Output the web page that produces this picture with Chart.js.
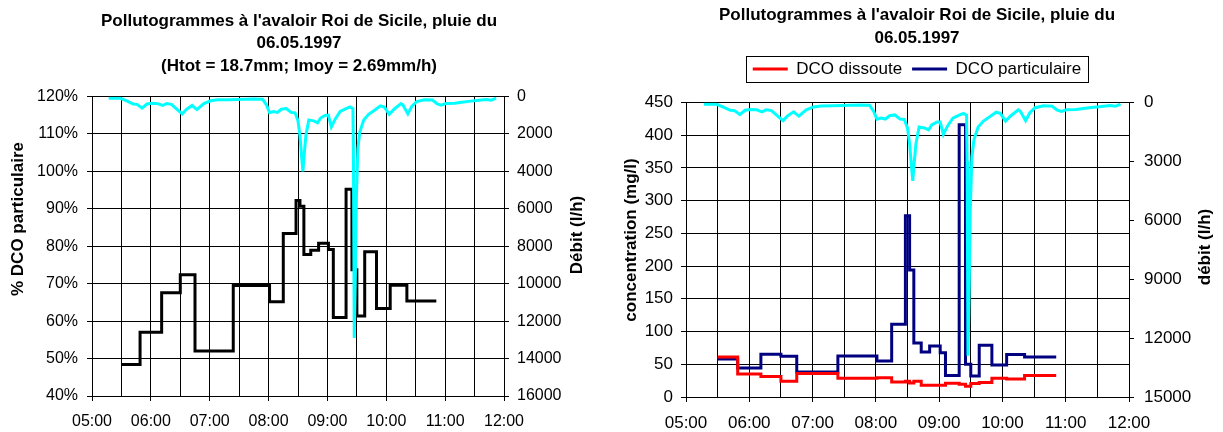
<!DOCTYPE html>
<html>
<head>
<meta charset="utf-8">
<script src="https://cdn.jsdelivr.net/npm/chart.js@4.4.1/dist/chart.umd.min.js"></script>
<style>
  body { margin: 0; background: #fff; }
  #left { position: absolute; left: 0; top: 0; }
  #right { position: absolute; left: 611px; top: 0; }
</style>
</head>
<body>
<canvas id="left" width="598" height="432"></canvas>
<canvas id="right" width="612" height="432"></canvas>
<script>
// Sampling steps (start of each sample, last entry = end of the last sample)
var stepTimes = ['05:30', '05:49', '06:11', '06:30', '06:45', '07:24', '08:01', '08:15', '08:28', '08:32', '08:36', '08:43',
    '08:51', '09:01', '09:06', '09:19', '09:25', '09:30', '09:38', '09:50', '10:04', '10:21', '10:51'];
var pctParticulaire = [48.4, 57.0, 67.6, 72.4, 52.0, 69.5, 65.2, 83.4, 92.2, 90.7, 77.8, 78.9,
    80.8, 79.1, 61.0, 95.2, 73.7, 61.4, 78.5, 63.4, 69.6, 65.4, 65.4];
var dcoDissoute = [61.2, 35, 31.5, 24, 36, 28.5, 29.5, 23, 24, 21.5, 24, 18,
    18, 18, 21, 19.5, 16.5, 20.5, 22, 28.5, 27.5, 33, 33];
var dcoParticulaire = [58.2, 44.4, 65.3, 62.3, 38.3, 62.8, 55.1, 111.3, 277, 193.9, 82.5, 68.9,
    77.8, 67.5, 33, 416, 50, 32, 79, 49, 64.8, 61.2, 61.2];

// Flow (débit, l/h)
var flowTimes = ['05:17', '05:29', '05:36', '05:42', '05:46', '05:51', '05:56', '06:01', '06:07', '06:12', '06:16', '06:21',
    '06:27', '06:32', '06:36', '06:42', '06:47', '06:54', '07:01', '07:08', '07:20', '07:35', '07:45', '07:54',
    '07:58', '08:01', '08:05', '08:09', '08:13', '08:18', '08:23', '08:27', '08:30', '08:32', '08:34', '08:35',
    '08:36', '08:38', '08:41', '08:46', '08:50', '08:53', '08:58', '09:01', '09:04', '09:08', '09:13', '09:19',
    '09:23', '09:26', '09:26:30', '09:27:20', '09:28:30', '09:29:30', '09:31', '09:33', '09:37', '09:42', '09:48', '09:54',
    '09:58', '10:03', '10:08', '10:15', '10:17', '10:22', '10:26', '10:31', '10:39', '10:47', '10:52', '10:56',
    '11:01', '11:10', '11:15', '11:24', '11:32', '11:42', '11:47', '11:52'];
var flowValues = [100, 100, 250, 400, 420, 620, 400, 360, 380, 480, 380, 420,
    700, 930, 700, 480, 700, 380, 230, 180, 170, 150, 130, 150,
    460, 860, 800, 850, 680, 640, 850, 870, 1300, 2100, 3400, 4000,
    3300, 2100, 1250, 1300, 1400, 1150, 1000, 1000, 1630, 1200, 800, 650,
    560, 650, 3000, 12900, 9500, 5500, 2800, 1900, 1250, 950, 730, 500,
    560, 950, 680, 380, 450, 930, 530, 270, 170, 190, 400, 460,
    370, 360, 320, 260, 220, 160, 200, 90];

var hourLabels = ['05:00', '06:00', '07:00', '08:00', '09:00', '10:00', '11:00', '12:00'];

Chart.defaults.font.family = '"Liberation Sans", Arial, sans-serif';
Chart.defaults.color = '#000';

function toHours(t) {
    var p = t.split(':');
    return +p[0] + p[1] / 60 + (p[2] ? p[2] / 3600 : 0);
}
function points(times, values) {
    return times.map(function(t, i) { return {x: toHours(t), y: values[i]}; });
}

function timeAxis(fontSize, height, padding) {
    return {
        type: 'linear', min: 5, max: 12,
        ticks: {
            stepSize: 0.5, autoSkip: false, maxRotation: 0, padding: padding,
            font: {size: fontSize},
            callback: function(v) { return v % 1 === 0 ? hourLabels[v - 5] : ''; }
        },
        grid: {
            color: '#000', tickLength: 5,
            tickColor: function(c) { return c.tick && c.tick.value % 1 === 0 ? '#000' : 'rgba(0,0,0,0)'; }
        },
        border: {color: '#000'},
        afterFit: function(s) { s.height = height; }
    };
}

// rotated axis titles, both reading bottom to top
var sideTitles = {
    id: 'sideTitles',
    afterDraw: function(chart, args, opts) {
        var ctx = chart.ctx;
        opts.items.forEach(function(it) {
            ctx.save();
            ctx.translate(it.x, it.y);
            ctx.rotate(-Math.PI / 2);
            ctx.font = 'bold 17px "Liberation Sans", Arial, sans-serif';
            ctx.fillStyle = '#000';
            ctx.textAlign = 'center';
            ctx.textBaseline = 'middle';
            ctx.fillText(it.text, 0, 0);
            ctx.restore();
        });
    }
};

// frame around the legend + extra room below it
var legendBox = {
    id: 'legendBox',
    beforeInit: function(chart) {
        var fit = chart.legend.fit;
        chart.legend.fit = function() { fit.call(this); this.height += 15; };
    },
    afterDraw: function(chart) {
        var boxes = chart.legend.legendHitBoxes;
        if (!boxes || !boxes.length) return;
        var first = boxes[0], last = boxes[boxes.length - 1];
        var cy = first.top + first.height / 2;
        var x0 = Math.round(first.left - 7) + 0.5;
        var x1 = Math.round(last.left + last.width + 7) + 0.5;
        var y0 = Math.round(cy - 13) + 0.5;
        var ctx = chart.ctx;
        ctx.save();
        ctx.strokeStyle = '#000';
        ctx.lineWidth = 1;
        ctx.strokeRect(x0, y0, x1 - x0, 26);
        ctx.restore();
    }
};

// Left chart: % DCO particulaire
new Chart(document.getElementById('left').getContext('2d'), {
    type: 'line',
    data: {
        datasets: [{
            label: 'Débit',
            data: points(flowTimes, flowValues),
            borderColor: '#00FFFF', borderWidth: 3, pointRadius: 0,
            yAxisID: 'y2', order: 0
        }, {
            label: '% DCO particulaire',
            data: points(stepTimes, pctParticulaire),
            stepped: true,
            borderColor: '#000', borderWidth: 3, pointRadius: 0,
            yAxisID: 'y', order: 1
        }]
    },
    options: {
        responsive: false, animation: false, devicePixelRatio: 1,
        layout: {padding: 0},
        plugins: {
            legend: {display: false},
            tooltip: {enabled: false},
            title: {
                display: true,
                text: ["Pollutogrammes à l'avaloir Roi de Sicile, pluie du", '06.05.1997', '(Htot = 18.7mm; Imoy = 2.69mm/h)'],
                color: '#000',
                font: {size: 17, weight: 'bold', lineHeight: 1.3},
                padding: {top: 10.6, bottom: 19.6}
            },
            sideTitles: {items: [
                {text: '% DCO particulaire', x: 18, y: 219},
                {text: 'Débit (l/h)', x: 577, y: 235}
            ]}
        },
        scales: {
            x: timeAxis(16, 36, 11),
            y: {
                position: 'left', min: 40, max: 120,
                ticks: {stepSize: 10, padding: 9, font: {size: 16}, callback: function(v) { return v + '%'; }},
                grid: {color: '#000', tickLength: 5},
                border: {color: '#000'},
                afterFit: function(s) { s.width = 92; }
            },
            y2: {
                position: 'right', reverse: true, min: 0, max: 16000,
                ticks: {stepSize: 2000, padding: 8, font: {size: 16}, callback: function(v) { return String(v); }},
                grid: {drawOnChartArea: false, color: '#000', tickLength: 5},
                border: {color: '#000'},
                afterFit: function(s) { s.width = 94; }
            }
        }
    },
    plugins: [sideTitles]
});

// Right chart: concentrations
new Chart(document.getElementById('right').getContext('2d'), {
    type: 'line',
    data: {
        datasets: [{
            label: 'débit',
            data: points(flowTimes, flowValues),
            borderColor: '#00FFFF', borderWidth: 3, pointRadius: 0,
            yAxisID: 'y2', order: 0
        }, {
            label: 'DCO dissoute',
            data: points(stepTimes, dcoDissoute),
            stepped: true,
            borderColor: '#FF0000', borderWidth: 3, pointRadius: 0,
            yAxisID: 'y', order: 1
        }, {
            label: 'DCO particulaire',
            data: points(stepTimes, dcoParticulaire),
            stepped: true,
            borderColor: '#000080', borderWidth: 3, pointRadius: 0,
            yAxisID: 'y', order: 2
        }]
    },
    options: {
        responsive: false, animation: false, devicePixelRatio: 1,
        layout: {padding: 0},
        plugins: {
            tooltip: {enabled: false},
            title: {
                display: true,
                text: ["Pollutogrammes à l'avaloir Roi de Sicile, pluie du", '06.05.1997'],
                color: '#000',
                font: {size: 17, weight: 'bold', lineHeight: 1.37},
                padding: {top: 3.4, bottom: 0.4}
            },
            legend: {
                display: true,
                labels: {
                    color: '#000', font: {size: 17}, padding: 10,
                    usePointStyle: true, pointStyle: 'line', pointStyleWidth: 35,
                    filter: function(item) { return item.datasetIndex !== 0; }
                }
            },
            sideTitles: {items: [
                {text: 'concentration (mg/l)', x: 20, y: 240},
                {text: 'débit (l/h)', x: 594, y: 247}
            ]}
        },
        scales: {
            x: timeAxis(17, 35, 11),
            y: {
                position: 'left', min: 0, max: 450,
                ticks: {stepSize: 50, padding: 8, font: {size: 17}},
                grid: {color: '#000', tickLength: 5},
                border: {color: '#000'},
                afterFit: function(s) { s.width = 75; }
            },
            y2: {
                position: 'right', reverse: true, min: 0, max: 15000,
                ticks: {stepSize: 3000, padding: 10, font: {size: 17}, callback: function(v) { return String(v); }},
                grid: {drawOnChartArea: false, color: '#000', tickLength: 5},
                border: {color: '#000'},
                afterFit: function(s) { s.width = 94; }
            }
        }
    },
    plugins: [sideTitles, legendBox]
});
</script>
</body>
</html>
